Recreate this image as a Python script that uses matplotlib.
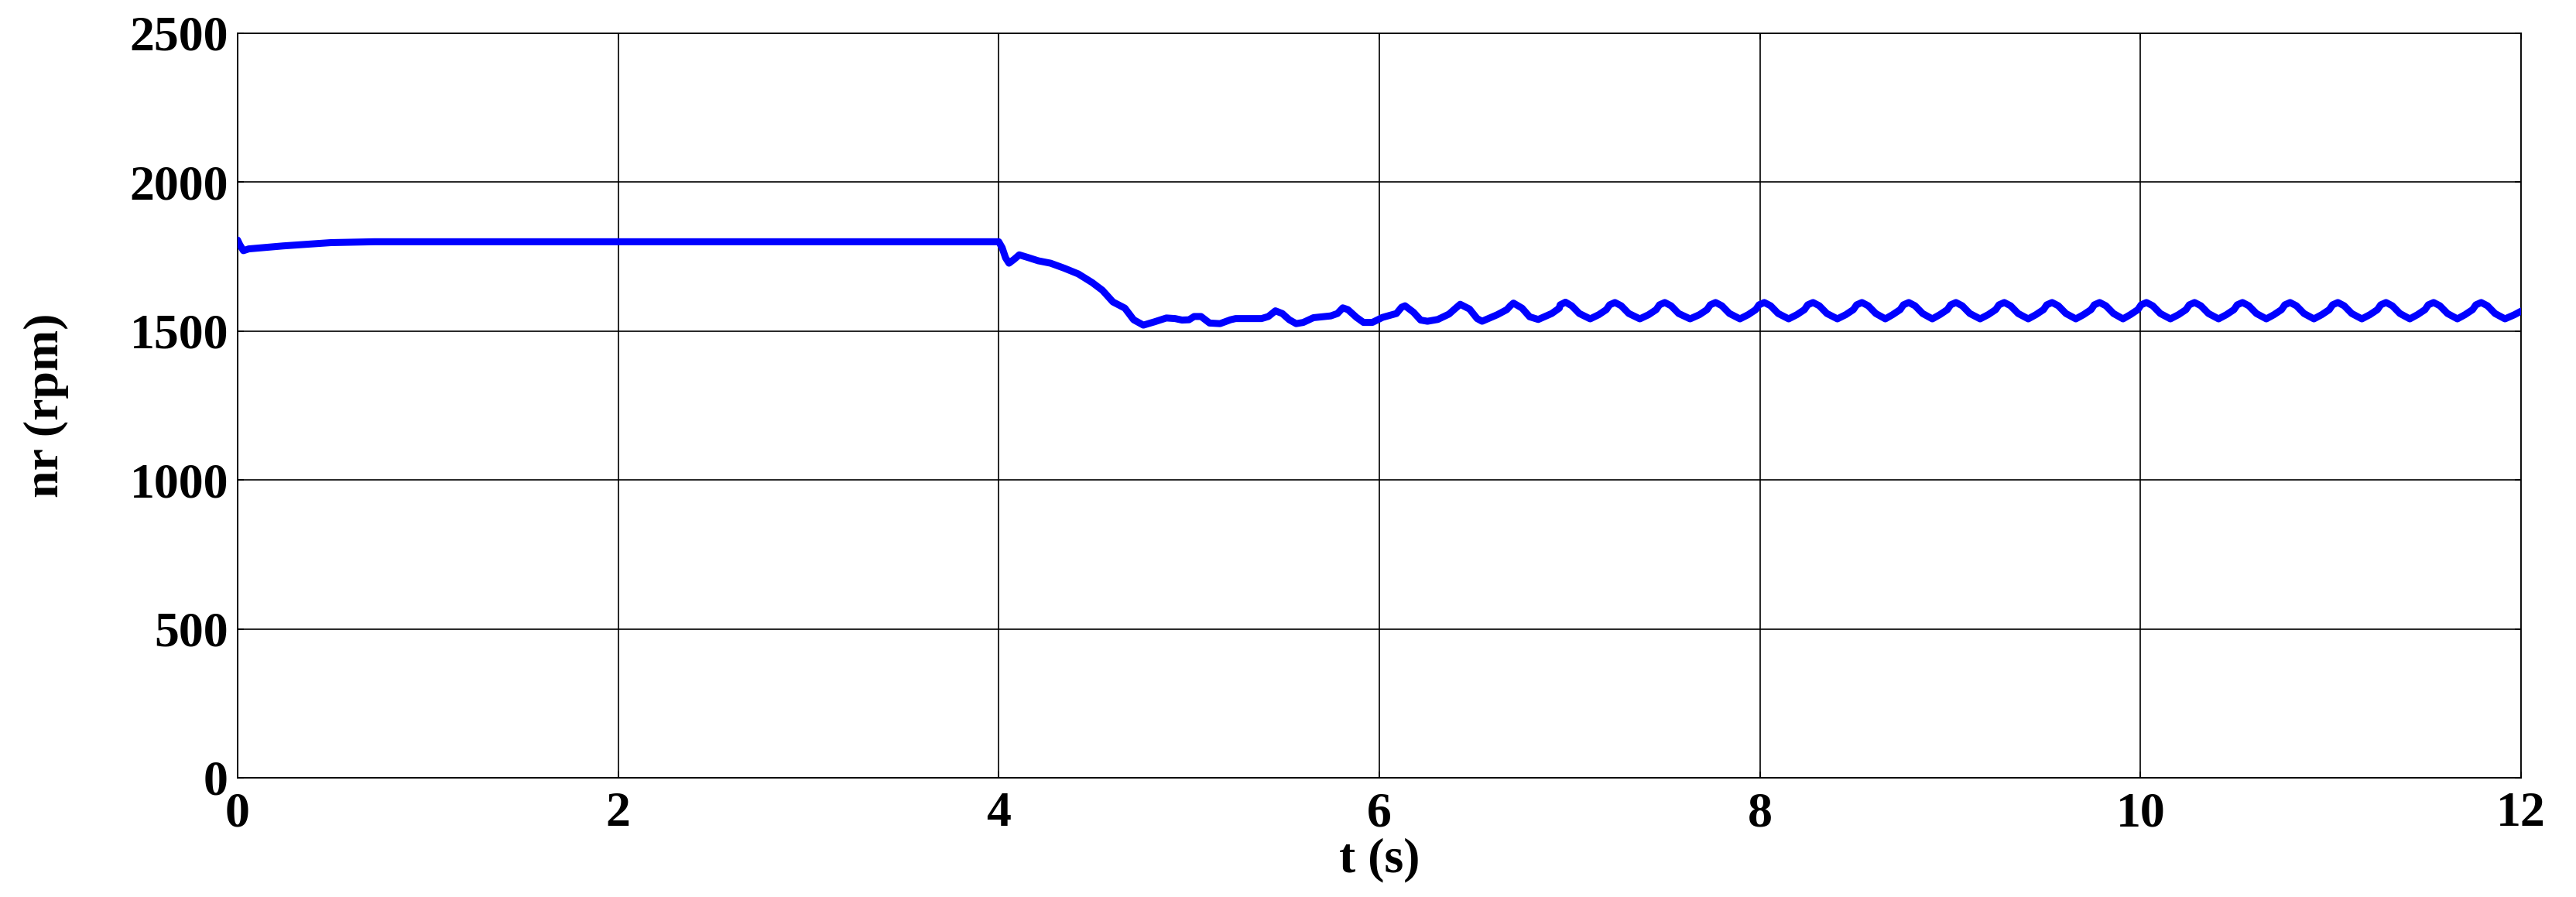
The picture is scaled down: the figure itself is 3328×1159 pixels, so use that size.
import matplotlib
matplotlib.use("Agg")
import matplotlib.pyplot as plt

# ---------------- data ----------------
x_ticks = [0, 2, 4, 6, 8, 10, 12]
y_ticks = [0, 500, 1000, 1500, 2000, 2500]
x_label = "t (s)"
y_label = "nr (rpm)"

# start-up and steady part (0 - 4 s)
t_start = [0.0, 0.012, 0.031, 0.059, 0.24, 0.49, 0.72, 1.5, 3.0, 4.0]
n_start = [1806, 1790, 1770, 1776, 1786, 1797, 1800, 1800, 1800, 1800]

# load step transient (4 - 5.4 s)
t_step = [4.018, 4.036, 4.054, 4.081, 4.108, 4.154, 4.208, 4.272, 4.345,
          4.418, 4.491, 4.545, 4.600, 4.663, 4.709, 4.760, 4.818, 4.881,
          4.927, 4.963, 5.000, 5.027, 5.063, 5.108, 5.163, 5.218, 5.245,
          5.381]
n_step = [1780, 1746, 1728, 1741, 1756, 1747, 1736, 1728, 1711,
          1692, 1663, 1637, 1598, 1577, 1538, 1520, 1531, 1544,
          1542, 1537, 1538, 1549, 1549, 1527, 1525, 1538, 1542,
          1542]

# first oscillations (5.4 - 6.95 s)
t_early = [5.417, 5.454, 5.490, 5.527, 5.563, 5.600, 5.654, 5.745, 5.780,
           5.808, 5.835, 5.880, 5.917, 5.963, 6.017, 6.090, 6.117, 6.135,
           6.180, 6.217, 6.253, 6.307, 6.366, 6.396, 6.425, 6.474, 6.514,
           6.540, 6.620, 6.670, 6.690, 6.705, 6.750, 6.790, 6.835, 6.906,
           6.946]
n_early = [1549, 1568, 1559, 1538, 1525, 1529, 1545, 1551, 1559,
           1578, 1572, 1546, 1529, 1529, 1546, 1559, 1580, 1585,
           1563, 1537, 1533, 1539, 1557, 1574, 1590, 1574, 1542,
           1533, 1555, 1572, 1586, 1594, 1577, 1548, 1539, 1559,
           1577]

# steady oscillation (6.95 - 12 s): per cycle rise, kink, peak, fall, trough
t_osc = [6.950, 6.978, 7.011, 7.051, 7.108,
         7.153, 7.193, 7.210, 7.238, 7.271, 7.311, 7.369,
         7.415, 7.455, 7.472, 7.500, 7.533, 7.573, 7.633,
         7.682, 7.722, 7.739, 7.767, 7.800, 7.840, 7.895,
         7.938, 7.978, 7.995, 8.023, 8.056, 8.096, 8.151,
         8.194, 8.234, 8.251, 8.279, 8.312, 8.352, 8.407,
         8.451, 8.491, 8.508, 8.536, 8.569, 8.609, 8.659,
         8.697, 8.737, 8.754, 8.782, 8.815, 8.855, 8.906,
         8.945, 8.985, 9.002, 9.030, 9.063, 9.103, 9.157,
         9.199, 9.239, 9.256, 9.284, 9.317, 9.357, 9.410,
         9.450, 9.490, 9.507, 9.535, 9.568, 9.608, 9.660,
         9.700, 9.740, 9.757, 9.785, 9.818, 9.858, 9.908,
         9.946, 9.986, 10.003, 10.031, 10.064, 10.104, 10.157,
         10.199, 10.239, 10.256, 10.284, 10.317, 10.357, 10.410,
         10.451, 10.491, 10.508, 10.536, 10.569, 10.609, 10.661,
         10.701, 10.741, 10.758, 10.786, 10.819, 10.859, 10.911,
         10.952, 10.992, 11.009, 11.037, 11.070, 11.110, 11.163,
         11.205, 11.245, 11.262, 11.290, 11.323, 11.363, 11.415,
         11.455, 11.495, 11.512, 11.540, 11.573, 11.613, 11.665,
         11.705, 11.745, 11.762, 11.790, 11.823, 11.863, 11.915,
         11.965, 12.000]
n_osc = [1588, 1597, 1585, 1559, 1541,
         1555, 1572, 1588, 1596, 1585, 1559, 1541,
         1555, 1572, 1588, 1596, 1585, 1559, 1541,
         1555, 1572, 1588, 1596, 1585, 1559, 1541,
         1555, 1572, 1588, 1596, 1585, 1559, 1541,
         1555, 1572, 1588, 1596, 1585, 1559, 1541,
         1555, 1572, 1588, 1596, 1585, 1559, 1541,
         1555, 1572, 1588, 1596, 1585, 1559, 1541,
         1555, 1572, 1588, 1596, 1585, 1559, 1541,
         1555, 1572, 1588, 1596, 1585, 1559, 1541,
         1555, 1572, 1588, 1596, 1585, 1559, 1541,
         1555, 1572, 1588, 1596, 1585, 1559, 1541,
         1555, 1572, 1588, 1596, 1585, 1559, 1541,
         1555, 1572, 1588, 1596, 1585, 1559, 1541,
         1555, 1572, 1588, 1596, 1585, 1559, 1541,
         1555, 1572, 1588, 1596, 1585, 1559, 1541,
         1555, 1572, 1588, 1596, 1585, 1559, 1541,
         1555, 1572, 1588, 1596, 1585, 1559, 1541,
         1555, 1572, 1588, 1596, 1585, 1559, 1541,
         1555, 1572, 1588, 1596, 1585, 1559, 1541,
         1555, 1567]

t = t_start + t_step + t_early + t_osc
nr = n_start + n_step + n_early + n_osc

# ---------------- figure ----------------
plt.rcParams['font.family'] = ['Liberation Serif', 'DejaVu Serif']
plt.rcParams['font.weight'] = 'bold'

fig = plt.figure(figsize=(33.28, 11.59), dpi=100)
ax = fig.add_axes([0.0922, 0.1329, 0.8865, 0.8300])

ax.plot(t, nr, color=(0, 0, 1), lw=6.5, solid_joinstyle='round',
        solid_capstyle='round', zorder=3)

ax.set_xlim(0, 12)
ax.set_ylim(0, 2500)
ax.set_xticks(x_ticks)
ax.set_yticks(y_ticks)
ax.set_xticklabels([str(v) for v in x_ticks])
ax.set_yticklabels([str(v) for v in y_ticks])

ax.grid(True, color='black', lw=1.2, ls='-')
ax.set_axisbelow(True)
for s in ax.spines.values():
    s.set_linewidth(1.3)
    s.set_color('black')

ax.tick_params(axis='both', which='major', direction='in', length=6,
               width=1.3, top=True, right=True, labelsize=46)
ax.tick_params(axis='x', pad=13)
ax.tick_params(axis='y', pad=8.6)
for lab in ax.get_xticklabels() + ax.get_yticklabels():
    lab.set_fontweight('bold')

ax.set_xlabel(x_label, fontsize=46, fontweight='bold')
ax.xaxis.set_label_coords(0.5, -0.081)
ax.set_ylabel(y_label, fontsize=46, fontweight='bold', va='center')
ax.yaxis.set_label_coords(-0.0837, 0.5)

fig.savefig('out.png', dpi=100, facecolor='white')
